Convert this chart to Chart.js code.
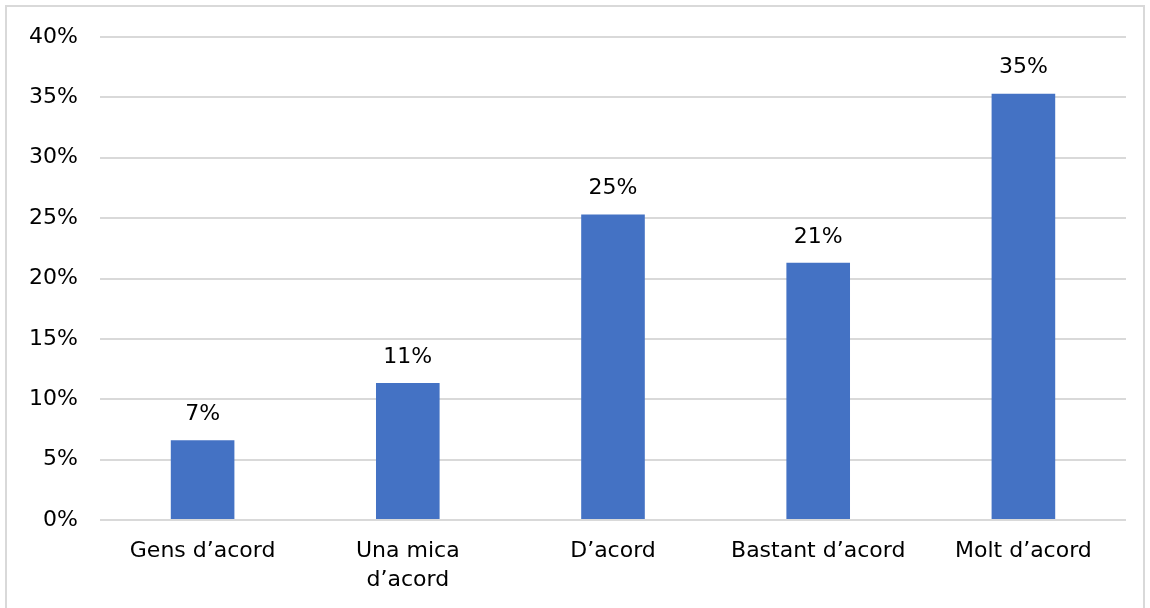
<!DOCTYPE html>
<html>
<head>
<meta charset="utf-8">
<script src="https://cdn.jsdelivr.net/npm/chart.js@4"></script>
<style>
  html, body { margin: 0; padding: 0; background: #fff; }
  #wrap { position: relative; width: 1150px; height: 608px; overflow: hidden; }
  #frame { position: absolute; left: 5px; top: 5px; width: 1140px; height: 620px; border: 2px solid #d9d9d9; box-sizing: border-box; pointer-events: none; }
  canvas { position: absolute; left: 0; top: 0; }
</style>
</head>
<body>
<div id="wrap">
  <canvas id="c" width="1150" height="608"></canvas>
  <div id="frame"></div>
</div>
<script>
const categories = ['Gens d\u2019acord', ['Una mica', 'd\u2019acord'], 'D\u2019acord', 'Bastant d\u2019acord', 'Molt d\u2019acord'];
const values = [6.6, 11.35, 25.3, 21.3, 35.3];
const yTicks = [0, 5, 10, 15, 20, 25, 30, 35, 40];

const FONT = '"DejaVu Sans", sans-serif';

const dataLabels = {
  id: 'dataLabels',
  afterDatasetsDraw(chart) {
    const ctx = chart.ctx;
    const meta = chart.getDatasetMeta(0);
    ctx.save();
    ctx.font = '22px ' + FONT;
    ctx.fillStyle = '#000';
    ctx.textAlign = 'center';
    ctx.textBaseline = 'bottom';
    meta.data.forEach((bar, i) => {
      ctx.fillText(Math.round(values[i]) + '%', bar.x, bar.y - 15);
    });
    ctx.restore();
  }
};

new Chart(document.getElementById('c'), {
  type: 'bar',
  data: {
    labels: categories,
    datasets: [{
      data: values,
      backgroundColor: '#4472C4',
      borderWidth: 0,
      barPercentage: 0.62,
      categoryPercentage: 0.5
    }]
  },
  options: {
    responsive: false,
    animation: false,
    events: [],
    layout: { padding: { top: 37, right: 24, left: 0, bottom: 0 } },
    plugins: { legend: { display: false }, tooltip: { enabled: false } },
    scales: {
      x: {
        grid: { display: false, drawTicks: false },
        border: { display: false },
        ticks: { color: '#000', font: { family: FONT, size: 22, lineHeight: 1.32 }, padding: 17, maxRotation: 0, autoSkip: false },
        afterFit(scale) { scale.height = 88; }
      },
      y: {
        min: 0, max: 40,
        afterBuildTicks(scale) { scale.ticks = yTicks.map(v => ({ value: v })); },
        grid: { color: '#d9d9d9', lineWidth: 2, drawTicks: false },
        border: { display: false },
        ticks: { color: '#000', font: { family: FONT, size: 22 }, padding: 22, callback: v => v + '%' },
        afterFit(scale) { scale.width = 100; }
      }
    }
  },
  plugins: [dataLabels]
});
</script>
</body>
</html>
